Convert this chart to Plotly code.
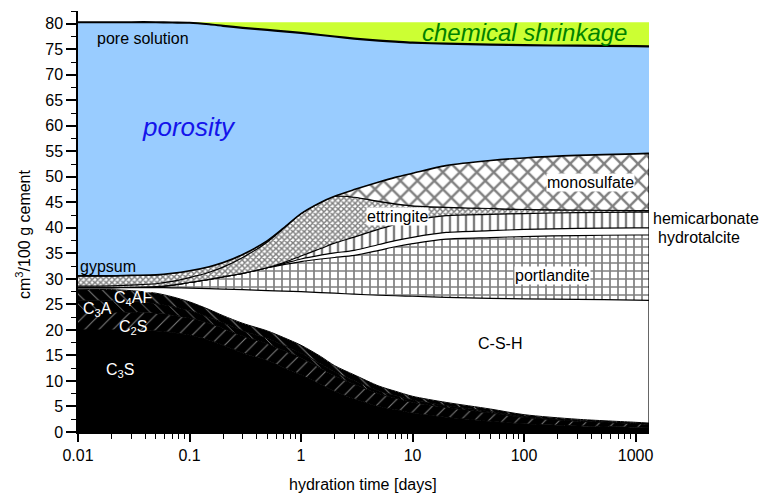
import plotly.graph_objects as go
import math

# ---------------- data (cm3 / 100 g cement) ----------------
time_days = [0.01, 0.02, 0.03, 0.05, 0.07, 0.1, 0.15, 0.2, 0.3, 0.5, 0.7, 1, 1.5, 2, 3, 5,
             7, 10, 20, 50, 100, 300, 1000, 1320]

c3s = [20.0, 20.0, 19.95, 19.8, 19.5, 19.0, 18.0, 17.0, 15.5, 14.0, 12.6, 11.2, 9.3, 8.0, 6.5,
       5.0, 4.4, 3.7, 2.9, 2.1, 1.6, 1.2, 0.95, 0.9]
c2s = [3.5, 3.5, 3.5, 3.45, 3.4, 3.35, 3.3, 3.3, 3.3, 3.3, 3.35, 3.3, 3.2, 3.0, 2.85, 2.5,
       2.25, 2.1, 1.9, 1.6, 1.25, 0.9, 0.68, 0.62]
c3a = [2.2, 2.2, 2.1, 1.9, 1.7, 1.45, 1.2, 1.1, 1.05, 1.0, 1.0, 0.95, 0.85, 0.75, 0.68, 0.55,
       0.5, 0.45, 0.38, 0.3, 0.2, 0.15, 0.1, 0.08]
c4af = [2.2, 2.2, 2.15, 2.05, 1.9, 1.7, 1.5, 1.4, 1.45, 1.5, 1.55, 1.55, 1.45, 1.25, 1.17, 0.95,
        0.85, 0.75, 0.62, 0.5, 0.35, 0.25, 0.17, 0.15]
csh = [0.4, 0.4, 0.6, 1.1, 1.75, 2.7, 4.1, 5.2, 6.6, 7.9, 9.1, 10.5, 12.5, 14.2, 15.8, 17.8,
       18.7, 19.6, 20.6, 21.7, 22.7, 23.5, 23.95, 24.05]
portlandite = [0, 0, 0.05, 0.2, 0.55, 1.1, 1.8, 2.4, 3.2, 4.5, 5.2, 5.9, 6.6, 7.0, 7.6, 8.8,
               9.6, 10.3, 11.4, 11.9, 12.2, 12.5, 12.75, 12.8]
hydrotalcite = [0, 0, 0, 0, 0, 0, 0, 0, 0, 0, 0.2, 0.5, 0.75, 0.9, 1.0, 1.15,
                1.2, 1.25, 1.3, 1.35, 1.4, 1.4, 1.4, 1.4]
hemicarbonate = [0, 0, 0, 0, 0, 0, 0, 0, 0, 0, 0.2, 0.6, 1.3, 1.9, 2.6, 3.0,
                 3.2, 3.3, 3.3, 3.2, 3.1, 3.1, 3.1, 3.1]
ettringite = [0.3, 0.35, 0.45, 0.55, 0.7, 0.95, 1.4, 1.9, 3.1, 5.05, 6.75, 8.3, 9.05, 9.2, 7.8,
              5.45, 4.0, 2.85, 1.6, 1.15, 0.8, 0.5, 0.3, 0.3]
gypsum = [2.0, 1.95, 1.9, 1.75, 1.6, 1.35, 1.1, 0.9, 0.6, 0.25, 0.05, 0, 0, 0, 0, 0,
          0, 0, 0, 0, 0, 0, 0, 0]
monosulfate = [0, 0, 0, 0, 0, 0, 0, 0, 0, 0, 0, 0, 0, 0, 1.5, 3.8,
               5.2, 6.4, 8.2, 9.4, 10.1, 10.7, 11.1, 11.2]
pore_solution = [49.7, 49.7, 49.6, 49.5, 49.15, 48.6, 47.5, 46.4, 44.4, 41.3, 38.5, 35.4, 32.8,
                 31.3, 29.6, 27.7, 26.6, 25.6, 23.9, 22.7, 22.1, 21.5, 21.1, 20.95]
chemical_shrinkage = [0, 0, 0, 0, 0.05, 0.1, 0.4, 0.7, 1.1, 1.5, 1.8, 2.1, 2.5, 2.8, 3.2, 3.6,
                      3.8, 4.0, 4.2, 4.4, 4.5, 4.6, 4.7, 4.75]

x_tick_vals = [0.01, 0.1, 1, 10, 100, 1000]
x_tick_text = ["0.01", "0.1", "1", "10", "100", "1000"]
y_tick_vals = list(range(0, 81, 5))

FONT = "Liberation Sans, Arial, sans-serif"

# ---------------- layout geometry (pixels) ----------------
W, H = 763, 493
ML, MR, MT, MB = 78, 114, 11, 61
PW, PH = W - ML - MR, H - MT - MB


def px2paper(px, py):
    return (px - ML) / PW, (H - MB - py) / PH


fig = go.Figure()

BLK = "black"
layers = [
    ("C3S", c3s, dict(fillcolor=BLK), 1),
    ("C2S", c2s, dict(fillcolor=BLK, fillpattern=dict(shape="/", bgcolor=BLK, fgcolor="white",
                                                        size=10, solidity=0.1)), 1),
    ("C3A", c3a, dict(fillcolor=BLK, fillpattern=dict(shape="\\", bgcolor=BLK, fgcolor="white",
                                                        size=9, solidity=0.1)), 1),
    ("C4AF", c4af, dict(fillcolor=BLK, fillpattern=dict(shape="\\", bgcolor=BLK, fgcolor="white",
                                                          size=10, solidity=0.1)), 1),
    ("C-S-H", csh, dict(fillcolor="white"), 1.2),
    ("portlandite", portlandite, dict(fillcolor="white",
                                      fillpattern=dict(shape="+", bgcolor="white", fgcolor=BLK,
                                                       size=8, solidity=0.38)), 1.2),
    ("hydrotalcite", hydrotalcite, dict(fillcolor="white"), 1.2),
    ("hemicarbonate", hemicarbonate, dict(fillcolor="white",
                                          fillpattern=dict(shape="|", bgcolor="white", fgcolor=BLK,
                                                           size=8, solidity=0.3)), 1.2),
    ("ettringite", ettringite, dict(fillcolor="white",
                                    fillpattern=dict(shape="x", bgcolor="white", fgcolor=BLK,
                                                     size=4, solidity=0.6)), 1.2),
    ("gypsum", gypsum, dict(fillcolor="white",
                            fillpattern=dict(shape="x", bgcolor="white", fgcolor=BLK,
                                             size=4, solidity=0.6)), 1.2),
    ("monosulfate", monosulfate, dict(fillcolor="white",
                                      fillpattern=dict(shape="x", bgcolor="white", fgcolor=BLK,
                                                       size=12, solidity=0.35)), 1.6),
    ("pore solution", pore_solution, dict(fillcolor="#99ccff"), 2.2),
    ("chemical shrinkage", chemical_shrinkage, dict(fillcolor="#ccff33"), 0),
]

for name, vals, style, lw in layers:
    fig.add_trace(go.Scatter(
        x=time_days, y=vals, name=name, mode="lines", stackgroup="phases",
        line=dict(color="black", width=lw, shape="spline", smoothing=0.8),
        hoverinfo="skip", **style))

# right edge of the solid phases
solids_end = sum(v[-1] for _, v, _, _ in layers[:11])
fig.add_trace(go.Scatter(x=[time_days[-1], time_days[-1]], y=[0, solids_end], mode="lines",
                         line=dict(color="black", width=1.2), hoverinfo="skip"))

# ---------------- annotations ----------------
def label(text, px, py, size=16, color="black", anchor="left", italic=False, bg=None, angle=0):
    xp, yp = px2paper(px, py)
    fig.add_annotation(
        text=f"<i>{text}</i>" if italic else text, x=xp, y=yp, xref="paper", yref="paper",
        xanchor=anchor, yanchor="middle", showarrow=False, textangle=angle,
        font=dict(family=FONT, size=size, color=color),
        bgcolor=bg, borderpad=0)


label("pore solution", 96, 38, 16)
label("porosity", 189, 127, 26, color="rgb(20,20,235)", anchor="center", italic=True)
label("chemical shrinkage", 524, 33, 24, color="rgb(0,130,0)", anchor="center", italic=True)
label("gypsum", 79, 266, 16)
label("C<sub>3</sub>A", 82, 309, 16, color="white")
label("C<sub>4</sub>AF", 113, 298, 16, color="white")
label("C<sub>2</sub>S", 118, 327, 16, color="white")
label("C<sub>3</sub>S", 105, 370, 16, color="white")
label("C-S-H", 477, 343, 16)
label("ettringite", 366, 217, 16, bg="white")
label("monosulfate", 546, 182, 16, bg="white")
label("portlandite", 514, 275, 16, bg="white")
label("hemicarbonate", 652, 218, 16)
label("hydrotalcite", 657, 237, 16)
label("hydration time [days]", 363, 484, 16, anchor="center")
label("cm<sup>3</sup>/100 g cement", 23, 234, 16, anchor="center", angle=-90)

# ---------------- axes ----------------
fig.update_xaxes(
    type="log", range=[-2, math.log10(time_days[-1])], automargin=False,
    tickvals=x_tick_vals, ticktext=x_tick_text,
    showline=True, linecolor="black", linewidth=1.5, mirror=False,
    ticks="outside", ticklen=8, tickwidth=1.5, tickcolor="black",
    minor=dict(ticks="outside", ticklen=5, tickwidth=1.2, tickcolor="black", dtick="D1"),
    showgrid=False, zeroline=False,
    tickfont=dict(family=FONT, size=16, color="black"),
)
fig.update_yaxes(
    range=[0, 82.5], tickvals=y_tick_vals, automargin=False,
    showline=True, linecolor="black", linewidth=1.5, mirror=False,
    ticks="outside", ticklen=10, tickwidth=1.5, tickcolor="black",
    minor=dict(ticks="outside", ticklen=5, tickwidth=1.2, tickcolor="black", dtick=2.5),
    showgrid=False, zeroline=False,
    tickfont=dict(family=FONT, size=16, color="black"),
)

fig.update_layout(
    width=W, height=H, margin=dict(l=ML, r=MR, t=MT, b=MB, pad=0),
    plot_bgcolor="white", paper_bgcolor="white", showlegend=False,
    font=dict(family=FONT),
)

fig.write_html("out.html")
